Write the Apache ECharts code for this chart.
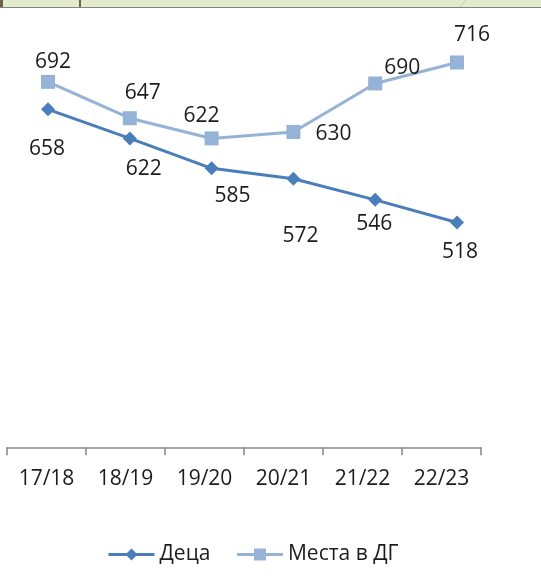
<!DOCTYPE html>
<html>
<head>
<meta charset="utf-8">
<script src="https://cdn.jsdelivr.net/npm/echarts@6/dist/echarts.min.js"></script>
<style>
html,body{margin:0;padding:0;background:#fff;}
#chart{width:541px;height:580px;}
</style>
</head>
<body>
<div id="chart"></div>
<script>
var categories = ['17/18', '18/19', '19/20', '20/21', '21/22', '22/23'];
var children = [658, 622, 585, 572, 546, 518];
var places = [692, 647, 622, 630, 690, 716];
var seriesNames = ['Деца', 'Места в ДГ'];

// label offsets (style only, kept separate from the data)
var childrenLabelOffsets = [[-1, 40], [14, 31], [21, 28], [7, 57], [-1, 24], [3, 30]];
var placesLabelOffsets = [[5, -20], [13, -25], [-10, -22], [40, 2], [27, -15], [15, -27]];

var FONT = 'Open Sans';
var TEXT = '#1c1c1c';

function withOffsets(values, offsets) {
  return values.map(function (v, i) {
    return { value: v, label: { offset: offsets[i] } };
  });
}

var chart = echarts.init(document.getElementById('chart'), null, { renderer: 'canvas' });
chart.setOption({
  animation: false,
  backgroundColor: '#ffffff',
  textStyle: { fontFamily: FONT },
  graphic: [
    { type: 'rect', shape: { x: 0, y: 0, width: 541, height: 7 }, style: { fill: '#e4eacd' }, silent: true },
    { type: 'rect', shape: { x: 0, y: 7, width: 541, height: 1 }, style: { fill: '#85857a' }, silent: true },
    { type: 'rect', shape: { x: 0, y: 0, width: 3, height: 7 }, style: { fill: '#6e6448' }, silent: true },
    { type: 'rect', shape: { x: 79, y: 0, width: 2, height: 7 }, style: { fill: '#6e6448' }, silent: true },
    { type: 'line', shape: { x1: 460, y1: 7, x2: 466, y2: 0 }, style: { stroke: '#c8ccb8', lineWidth: 1 }, silent: true }
  ],
  grid: [
    { left: 48, width: 409, top: 35, height: 363.6, containLabel: false },
    { left: 7, width: 474, top: 35, height: 412.3, containLabel: false }
  ],
  xAxis: [
    { type: 'category', gridIndex: 0, data: categories, boundaryGap: false, show: false },
    {
      type: 'category', gridIndex: 1, data: categories, boundaryGap: true,
      axisLine: { show: true, lineStyle: { color: '#8c8c8c', width: 1.6 } },
      axisTick: { show: true, length: 8, inside: false, lineStyle: { color: '#8c8c8c', width: 1.6 } },
      axisLabel: { color: TEXT, fontSize: 21, fontFamily: FONT, margin: 21 },
      splitLine: { show: false }
    }
  ],
  yAxis: [
    { type: 'value', gridIndex: 0, min: 300, max: 750, show: false, splitLine: { show: false } },
    { type: 'value', gridIndex: 1, min: 0, max: 1, show: false, splitLine: { show: false } }
  ],
  legend: {
    left: 107, top: 544, padding: 0,
    itemWidth: 46, itemHeight: 15, itemGap: 25,
    lineStyle: { width: 3 },
    textStyle: { color: TEXT, fontSize: 21, fontFamily: FONT },
    data: seriesNames
  },
  series: [
    {
      name: seriesNames[0], type: 'line', xAxisIndex: 0, yAxisIndex: 0,
      data: withOffsets(children, childrenLabelOffsets),
      symbol: 'diamond', symbolSize: 14,
      lineStyle: { color: '#4a7ebb', width: 3 },
      itemStyle: { color: '#4a7ebb' },
      label: { show: true, position: 'inside', color: TEXT, fontSize: 21, fontFamily: FONT, align: 'center', verticalAlign: 'middle' },
      z: 3
    },
    {
      name: seriesNames[1], type: 'line', xAxisIndex: 0, yAxisIndex: 0,
      data: withOffsets(places, placesLabelOffsets),
      symbol: 'rect', symbolSize: 14,
      lineStyle: { color: '#95b3d7', width: 3 },
      itemStyle: { color: '#95b3d7' },
      label: { show: true, position: 'inside', color: TEXT, fontSize: 21, fontFamily: FONT, align: 'center', verticalAlign: 'middle' },
      z: 2
    }
  ]
});
</script>
</body>
</html>
